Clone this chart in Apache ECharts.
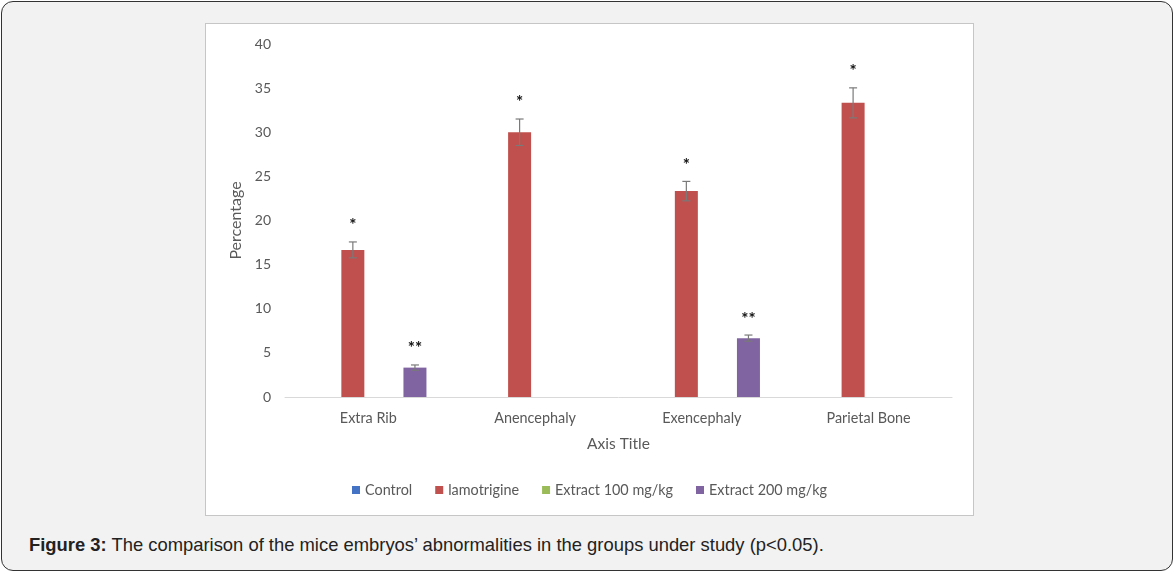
<!DOCTYPE html>
<html>
<head>
<meta charset="utf-8">
<script src="https://cdn.jsdelivr.net/npm/echarts@6/dist/echarts.min.js"></script>
<style>
html,body{margin:0;padding:0;background:#ffffff;width:1175px;height:574px;overflow:hidden;}
#frame{position:absolute;left:1px;top:1px;width:1170px;height:568px;border:1.5px solid #333;border-radius:12px;background:#f2f2f2;}
#box{position:absolute;left:205px;top:23px;width:767px;height:491px;background:#fff;border:1px solid #c6c6c6;}
#chart{position:absolute;left:0;top:0;width:767px;height:491px;}
#cap{position:absolute;left:29px;top:534px;font-family:"Liberation Sans",Arial,sans-serif;font-size:18.4px;color:#222;white-space:nowrap;}
#cap b{font-weight:bold;}
</style>
</head>
<body>
<div id="frame"></div>
<div id="box"><div id="chart"></div></div>
<div id="cap"><b>Figure 3:</b> The comparison of the mice embryos’ abnormalities in the groups under study (p&lt;0.05).</div>
<script>
const categories = ['Extra Rib', 'Anencephaly', 'Exencephaly', 'Parietal Bone'];
const seriesNames = ['Control', 'lamotrigine', 'Extract 100 mg/kg', 'Extract 200 mg/kg'];
const control = [0, 0, 0, 0];
const lamotrigine = [16.67, 30, 23.33, 33.33];
const extract100 = [0, 0, 0, 0];
const extract200 = [3.33, 0, 6.67, 0];
const lamotrigineErr = [0.9, 1.5, 1.1, 1.7];
const extract200Err = [0.3, 0, 0.35, 0];
const lamotrigineSig = ['*', '*', '*', '*'];
const extract200Sig = ['**', '', '**', ''];
const yTicks = [0, 5, 10, 15, 20, 25, 30, 35, 40];

const colors = ['#4472c4', '#c0504d', '#9bbb59', '#8064a2'];
const BAR_W = 23;
const GAP = 0.35;
const step = BAR_W * (1 + GAP);
const font = 'Lato, "Open Sans", sans-serif';
const grey = '#595959';

function errSeries(values, errs, sigs, barIndex) {
  const data = values.map((v, i) => [i, v, errs[i]]);
  return {
    type: 'custom',
    name: 'err' + barIndex,
    silent: true,
    z: 5,
    data: data,
    renderItem: function (params, api) {
      const idx = api.value(0);
      const v = api.value(1);
      const e = api.value(2);
      const sig = sigs[idx];
      if (!v) return null;
      const dx = (barIndex - 1.5) * step;
      const c = api.coord([idx, v]);
      const x = c[0] + dx;
      const top = api.coord([idx, v + e])[1];
      const bot = api.coord([idx, v - e])[1];
      const hw = 4;
      const ls = { stroke: '#7a7a7a', lineWidth: 1.2 };
      return {
        type: 'group',
        children: [
          { type: 'line', shape: { x1: x, y1: top, x2: x, y2: bot }, style: ls },
          { type: 'line', shape: { x1: x - hw, y1: top, x2: x + hw, y2: top }, style: ls },
          { type: 'line', shape: { x1: x - hw, y1: bot, x2: x + hw, y2: bot }, style: ls },
          { type: 'text', x: x, y: top - 16, style: { text: sig, fill: '#111', font: 'bold 17px ' + font, align: 'center', verticalAlign: 'middle' } }
        ]
      };
    }
  };
}

function barSeries(name, values, color) {
  return {
    type: 'bar', name: name, data: values, barWidth: BAR_W, barGap: (GAP * 100) + '%',
    itemStyle: { color: color }, silent: true
  };
}

const chart = echarts.init(document.getElementById('chart'), null, { renderer: 'canvas' });
chart.setOption({
  animation: false,
  color: colors,
  grid: { left: 79, right: 21, top: 20, bottom: 118, containLabel: false },
  legend: {
    data: seriesNames,
    bottom: 13,
    left: 'center',
    itemWidth: 8, itemHeight: 8, itemGap: 23,
    icon: 'rect',
    textStyle: { color: grey, fontSize: 14.4, fontFamily: font }
  },
  xAxis: {
    type: 'category', data: categories,
    name: 'Axis Title', nameLocation: 'middle', nameGap: 39,
    nameTextStyle: { color: grey, fontSize: 15.5, fontFamily: font },
    axisLine: { lineStyle: { color: '#d9d9d9', width: 1 } },
    axisTick: { show: false },
    axisLabel: { color: grey, fontSize: 14.4, fontFamily: font, margin: 14 }
  },
  yAxis: {
    type: 'value', min: yTicks[0], max: yTicks[yTicks.length - 1], interval: yTicks[1] - yTicks[0],
    name: 'Percentage', nameLocation: 'middle', nameGap: 38, nameRotate: 90,
    nameTextStyle: { color: grey, fontSize: 16, fontFamily: font },
    axisLine: { show: false }, axisTick: { show: false },
    splitLine: { show: false },
    axisLabel: { color: grey, fontSize: 14, fontFamily: font, margin: 14 }
  },
  series: [
    barSeries(seriesNames[0], control, colors[0]),
    barSeries(seriesNames[1], lamotrigine, colors[1]),
    barSeries(seriesNames[2], extract100, colors[2]),
    barSeries(seriesNames[3], extract200, colors[3]),
    errSeries(lamotrigine, lamotrigineErr, lamotrigineSig, 1),
    errSeries(extract200, extract200Err, extract200Sig, 3)
  ]
});
</script>
</body>
</html>
